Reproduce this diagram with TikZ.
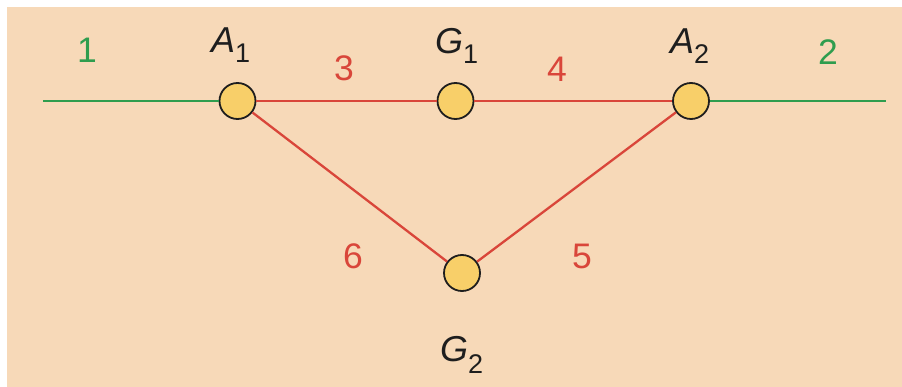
\documentclass[tikz,border=0pt]{standalone}
\usepackage{fontspec}
\setmainfont{Liberation Sans}
\definecolor{peach}{HTML}{F7D9B8}
\definecolor{grn}{HTML}{2F9D4E}
\definecolor{rd}{HTML}{D9463A}
\definecolor{ylw}{HTML}{F8CF69}
\definecolor{ink}{HTML}{1E1E1E}
\newcommand{\sublab}[3]{\textit{#1}\raisebox{-#3pt}{\fontsize{27}{27}\selectfont #2}}
\begin{document}
\begin{tikzpicture}[x=1pt,y=-1pt,
  vert/.style={circle,draw=ink,fill=ylw,line width=1.8pt,minimum size=36pt,inner sep=0pt},
  gline/.style={draw=grn,line width=2.6pt},
  rline/.style={draw=rd,line width=2.3pt},
  glab/.style={text=grn,font=\fontsize{35.5}{36}\selectfont,anchor=base,inner sep=0pt},
  rlab/.style={text=rd,font=\fontsize{35.5}{36}\selectfont,anchor=base,inner sep=0pt},
  nlab/.style={text=ink,font=\fontsize{36}{36}\selectfont,anchor=base west,inner sep=0pt}]
\useasboundingbox (0,0) rectangle (902,387);
\fill[white] (0,0) rectangle (902,387);
\fill[peach] (7,7) rectangle (902,387);
% vertices
\node[vert] (A1) at (237.5,101) {};
\node[vert] (G1) at (455.5,101) {};
\node[vert] (A2) at (691,101) {};
\node[vert] (G2) at (462,273) {};
\coordinate (L) at (43,101);
\coordinate (R) at (886,101);
% connectors
\draw[gline] (L) -- (A1);
\draw[gline] (A2) -- (R);
\draw[rline] (A1) -- (G1);
\draw[rline] (G1) -- (A2);
\draw[rline] (A2) -- (G2);
\draw[rline] (G2) -- (A1);
% labels
\node[glab] (l1) at (87,63) {1};
\node[glab] (l2) at (828,65) {2};
\node[rlab] (l3) at (344,81) {3};
\node[rlab] (l4) at (557,82) {4};
\node[rlab] (l5) at (582,269) {5};
\node[rlab] (l6) at (353,269) {6};
\node[nlab] (tA1) at (211,53) {\sublab{A}{1}{10}};
\node[nlab] (tG1) at (435,54) {\sublab{G}{1}{10}};
\node[nlab] (tA2) at (670,54) {\sublab{A}{2}{10}};
\node[nlab] (tG2) at (440,361) {\sublab{G}{2}{12}};
\end{tikzpicture}
\end{document}
